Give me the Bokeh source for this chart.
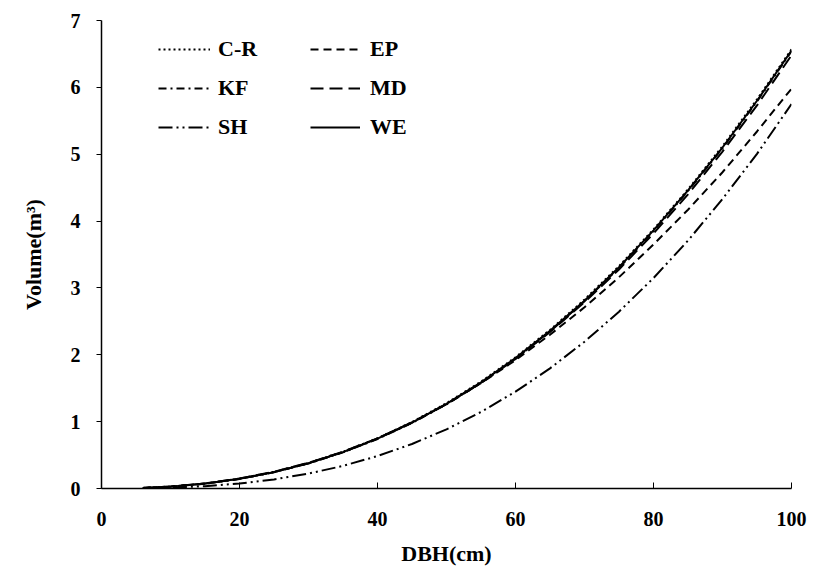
from bokeh.plotting import figure
from bokeh.models import Range1d, Legend, LegendItem, FixedTicker
from bokeh.embed import file_html
from bokeh.resources import INLINE

dbh = [6, 10, 15, 20, 25, 30, 35, 40, 45, 50, 55, 60, 65, 70, 75, 80, 85, 90, 95, 100]

cr = [0.008, 0.029, 0.074, 0.147, 0.248, 0.382, 0.549, 0.752, 0.994, 1.276,
      1.598, 1.963, 2.372, 2.826, 3.327, 3.876, 4.474, 5.12, 5.82, 6.57]
ep = [0.008, 0.028, 0.073, 0.145, 0.245, 0.378, 0.544, 0.745, 0.985, 1.262,
      1.575, 1.920, 2.300, 2.710, 3.160, 3.650, 4.170, 4.730, 5.340, 5.98]
kf = [0.008, 0.028, 0.072, 0.143, 0.243, 0.375, 0.540, 0.741, 0.980, 1.259,
      1.579, 1.942, 2.350, 2.800, 3.300, 3.850, 4.450, 5.09, 5.79, 6.54]
md = [0.009, 0.030, 0.076, 0.149, 0.250, 0.384, 0.550, 0.750, 0.988, 1.264,
      1.580, 1.938, 2.340, 2.785, 3.276, 3.815, 4.40, 5.04, 5.73, 6.48]
sh = [0.003, 0.011, 0.034, 0.075, 0.136, 0.223, 0.338, 0.485, 0.666, 0.885,
      1.145, 1.448, 1.797, 2.195, 2.645, 3.148, 3.708, 4.33, 5.006, 5.75]
we = [0.008, 0.028, 0.073, 0.145, 0.245, 0.378, 0.544, 0.746, 0.987, 1.267,
      1.588, 1.95, 2.36, 2.81, 3.31, 3.86, 4.46, 5.10, 5.80, 6.55]

x_ticks = [0, 20, 40, 60, 80, 100]
y_ticks = [0, 1, 2, 3, 4, 5, 6, 7]

FONT = "Liberation Serif"

p = figure(width=825, height=572, output_backend="svg", toolbar_location=None,
           x_range=Range1d(0, 100), y_range=Range1d(0, 7),
           min_border_left=101, min_border_right=34, min_border_top=20, min_border_bottom=84)
p.outline_line_color = None
p.xgrid.grid_line_color = None
p.ygrid.grid_line_color = None

series = [
    ("C-R", cr, "2 3"),
    ("EP", ep, "8 5"),
    ("KF", kf, "8 4 2 4"),
    ("MD", md, "13 6"),
    ("SH", sh, "14 4 2 4 2 4"),
    ("WE", we, "solid"),
]
renderers = {}
for name, ys, dash in series:
    r = p.line(dbh, ys, line_color="black", line_width=2, line_dash=dash)
    renderers[name] = r

p.xaxis.ticker = FixedTicker(ticks=x_ticks)
p.yaxis.ticker = FixedTicker(ticks=y_ticks)
for ax in (p.xaxis[0], p.yaxis[0]):
    ax.axis_line_color = "black"
    ax.axis_line_width = 1.5
    ax.major_tick_line_color = "black"
    ax.minor_tick_line_color = None
    ax.major_label_text_font = FONT
    ax.major_label_text_font_style = "bold"
    ax.major_label_text_font_size = "20px"
    ax.major_label_text_color = "black"
    ax.axis_label_text_font = FONT
    ax.axis_label_text_font_style = "bold"
    ax.axis_label_text_font_size = "22px"
    ax.axis_label_text_color = "black"

p.xaxis.major_tick_in = 6
p.xaxis.major_tick_out = 0
p.xaxis.major_label_standoff = 23
p.xaxis.axis_label = "DBH(cm)"
p.xaxis.axis_label_standoff = 12

p.yaxis.major_tick_in = 0
p.yaxis.major_tick_out = 5
p.yaxis.major_label_standoff = 16
p.yaxis.axis_label = "Volume(m\u00b3)"
p.yaxis.axis_label_standoff = 22


def make_legend(names, loc, gw, standoff):
    lg = Legend(items=[LegendItem(label=n, renderers=[renderers[n]]) for n in names],
                location=loc, orientation="vertical")
    lg.border_line_color = None
    lg.background_fill_alpha = 0
    lg.padding = 0
    lg.margin = 0
    lg.spacing = 13
    lg.glyph_width = gw
    lg.glyph_height = 24
    lg.label_height = 24
    lg.label_standoff = standoff
    lg.label_text_font = FONT
    lg.label_text_font_style = "bold"
    lg.label_text_font_size = "22px"
    lg.label_text_color = "black"
    return lg


p.add_layout(make_legend(["C-R", "KF", "SH"], (57, 348), 52, 8))
p.add_layout(make_legend(["EP", "MD", "WE"], (209, 348), 50, 10))

open("out.html", "w").write(file_html(p, INLINE))
